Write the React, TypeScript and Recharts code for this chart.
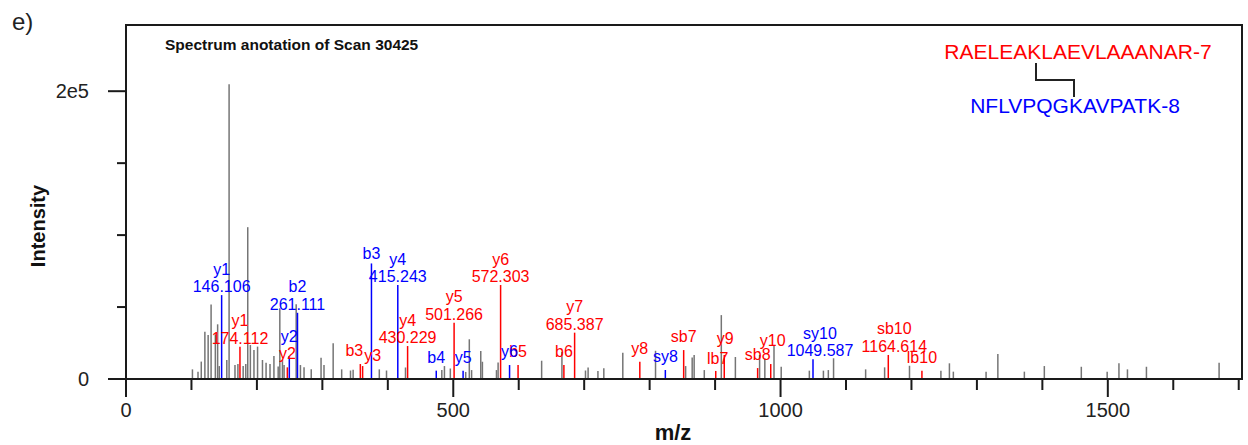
import { ComposedChart, Scatter, ErrorBar, XAxis, YAxis, ReferenceArea } from 'recharts';

const X_MAX = 1705;
const Y_MAX = 246000;

const xTicks = [0, 100, 200, 300, 400, 500, 600, 700, 800, 900, 1000, 1100, 1200, 1300, 1400, 1500, 1600, 1700];
const xTickLabels: Record<number, string> = { 0: '0', 500: '500', 1000: '1000', 1500: '1500' };
const yTicks = [0, 50000, 100000, 150000, 200000];
const yTickLabels: Record<number, string> = { 0: '0', 200000: '2e5' };

// unmatched peaks: [m/z, intensity]
const grayPeaks: [number, number][] = [
  [101.5, 6700], [110, 5100], [115, 12100], [120.5, 32800], [125.5, 30500],
  [130, 51700], [136.5, 31000], [140, 38000], [142.5, 9000], [154, 13200],
  [157.5, 204800], [166.5, 9700], [171, 10400], [179, 9000], [183, 10400],
  [186, 105500], [190, 23600], [195.5, 20100], [201, 22500], [208.5, 13200],
  [214, 11300], [220, 10400], [226, 16000], [232.5, 8700], [235, 49100],
  [239, 13200], [241.5, 9700], [260, 52000], [266.5, 9700], [272, 8100],
  [283, 6700], [298, 14700], [302.5, 9700], [316.5, 24800], [329.5, 6700],
  [343, 5900], [347, 6500], [387, 6700], [398, 5900], [427, 8000],
  [482.5, 6200], [486.5, 9000], [495.5, 7300], [519, 4900], [524.5, 27600],
  [528, 6200], [542, 19400], [544.5, 12000], [566, 6200], [568.5, 11500],
  [635, 12700], [666, 18700], [702, 5900], [706, 8000], [721, 5600],
  [730, 7400], [759, 18300], [809, 19600], [855, 9000], [865, 14900],
  [868, 16700], [883.5, 6200], [909.5, 44400], [931, 15300], [968, 16700],
  [976, 14400], [990, 22900], [1001, 8500], [1044, 5800], [1065.5, 5800],
  [1073, 6200], [1081, 14400], [1130, 6700], [1159, 8100], [1197, 9200],
  [1245, 5800], [1258, 10900], [1264, 5100], [1314, 5100], [1332, 17400],
  [1372.5, 5100], [1403, 9000], [1459.5, 8500], [1499, 5100], [1517, 10900],
  [1530, 6700], [1559, 8500], [1670, 11300],
];

// RAELEAKLAEVLAAANAR-7 fragments: [ion, m/z, intensity, m/z label]
const redPeaks: [string, number, number, string][] = [
  ['y1', 174.112, 22400, '174.112'],
  ['y2', 246.5, 8100, ''],
  ['b3', 358, 10400, ''],
  ['y3', 361.5, 9000, ''],
  ['y4', 430.229, 22900, '430.229'],
  ['y5', 501.266, 39100, '501.266'],
  ['y6', 572.303, 65300, '572.303'],
  ['b5', 599, 9700, ''],
  ['b6', 669, 9700, ''],
  ['y7', 685.387, 32200, '685.387'],
  ['y8', 785, 12000, ''],
  ['sb7', 852, 20100, ''],
  ['lb7', 901, 5600, ''],
  ['y9', 914, 16700, ''],
  ['sb8', 965, 7600, ''],
  ['y10', 985, 10400, ''],
  ['sb10', 1164.614, 16700, '1164.614'],
  ['lb10', 1216, 5800, ''],
];

// NFLVPQGKAVPATK-8 fragments
const bluePeaks: [string, number, number, string][] = [
  ['y1', 146.106, 58300, '146.106'],
  ['y2', 249.5, 16000, ''],
  ['b2', 262, 46000, '261.111'],
  ['b3', 375, 80300, ''],
  ['y4', 415.243, 65300, '415.243'],
  ['b4', 474, 5800, ''],
  ['y5', 515, 5800, ''],
  ['y6', 586, 9700, ''],
  ['sy8', 824, 6250, ''],
  ['sy10', 1049.587, 13700, '1049.587'],
];

const FONT = '"Liberation Sans", Arial, sans-serif';
const RED = '#ff0000';
const BLUE = '#0000ff';
const GRAY = '#757575';
const AXIS = '#1a1a1a';

const toRows = (peaks: [number, number][]) =>
  peaks.map(([mz, intensity]) => ({ mz, intensity, err: [intensity, 0] }));
const toAnnotated = (peaks: [string, number, number, string][]) =>
  peaks.map(([ion, mz, intensity, mzLabel]) => ({ ion, mz, intensity, mzLabel, err: [intensity, 0] }));

// nudges so crowded labels don't sit on top of each other
const labelShift: Record<string, [number, number]> = {
  'red-b3': [-6, 0],
  'red-y3': [10, 3],
  'red-y9': [1, -3],
  'red-lb7': [2, 1],
  'red-y10': [2, -10],
  'red-sb10': [6, 0],
  'blue-y2': [0, -6],
  'blue-b3': [0, 4],
  'blue-sy10': [7, 0],
};

const makeLabel = (color: string, key: string) => (props: any) => {
  const { cx, cy, payload } = props;
  if (cx == null || cy == null) return <g />;
  const [dx, dy] = labelShift[`${key}-${payload.ion}`] ?? [0, 0];
  const common = { textAnchor: 'middle' as const, fontSize: 16, fill: color, fontFamily: FONT };
  if (payload.mzLabel) {
    return (
      <g>
        <text x={cx + dx} y={cy - 20.5 + dy} {...common}>{payload.ion}</text>
        <text x={cx + dx} y={cy - 3 + dy} {...common}>{payload.mzLabel}</text>
      </g>
    );
  }
  return (
    <text x={cx + dx} y={cy - 8 + dy} {...common}>
      {payload.ion}
    </text>
  );
};

const XTick = (props: any) => {
  const { x, y, payload } = props;
  const label = xTickLabels[payload.value];
  const len = payload.value % 500 === 0 ? 18 : 11;
  return (
    <g>
      <line x1={x} x2={x} y1={y} y2={y + len} stroke={AXIS} strokeWidth={2} />
      {label && (
        <text x={x} y={y + 37.5} textAnchor="middle" fontSize={20} fill="#222" fontFamily={FONT}>
          {label}
        </text>
      )}
    </g>
  );
};

const YTick = (props: any) => {
  const { x, y, payload } = props;
  const label = yTickLabels[payload.value];
  const len = label ? 18 : 9;
  return (
    <g>
      <line x1={x - len} x2={x} y1={y} y2={y} stroke={AXIS} strokeWidth={2} />
      {label && (
        <text x={x - 37} y={y + 7} textAnchor="end" fontSize={20} fill="#222" fontFamily={FONT}>
          {label}
        </text>
      )}
    </g>
  );
};

export default function App() {
  return (
    <div style={{ position: 'absolute', left: 0, top: 0, width: 1248, height: 445, background: '#fff' }}>
      <ComposedChart width={1248} height={445} margin={{ top: 25, right: 6, bottom: 0, left: 0 }}>
        <XAxis
          dataKey="mz"
          type="number"
          domain={[0, X_MAX]}
          ticks={xTicks}
          allowDataOverflow
          height={66}
          tickSize={0}
          tickMargin={0}
          tick={<XTick />}
          axisLine={{ stroke: AXIS, strokeWidth: 2 }}
          interval={0}
        />
        <YAxis
          dataKey="intensity"
          type="number"
          domain={[0, Y_MAX]}
          ticks={yTicks}
          allowDataOverflow
          width={126}
          tickSize={0}
          tickMargin={0}
          tick={<YTick />}
          axisLine={{ stroke: AXIS, strokeWidth: 2 }}
          interval={0}
        />
        <ReferenceArea x1={0} x2={X_MAX} y1={0} y2={Y_MAX} fill="none" stroke={AXIS} strokeWidth={2} />
        <Scatter data={toRows(grayPeaks)} shape={() => <g />} isAnimationActive={false}>
          <ErrorBar dataKey="err" direction="y" width={0} stroke={GRAY} strokeWidth={1.5} isAnimationActive={false} />
        </Scatter>
        <Scatter data={toAnnotated(redPeaks)} shape={makeLabel(RED, 'red')} isAnimationActive={false}>
          <ErrorBar dataKey="err" direction="y" width={0} stroke={RED} strokeWidth={1.5} isAnimationActive={false} />
        </Scatter>
        <Scatter data={toAnnotated(bluePeaks)} shape={makeLabel(BLUE, 'blue')} isAnimationActive={false}>
          <ErrorBar dataKey="err" direction="y" width={0} stroke={BLUE} strokeWidth={1.5} isAnimationActive={false} />
        </Scatter>
      </ComposedChart>
      <svg
        width={1248}
        height={445}
        style={{ position: 'absolute', left: 0, top: 0, pointerEvents: 'none' }}
        fontFamily={FONT}
      >
        <text x={12} y={30} fontSize={24} fill="#222">e)</text>
        <text x={165} y={50} fontSize={15.5} fontWeight="bold" fill="#111">
          Spectrum anotation of Scan 30425
        </text>
        <text x={1078} y={59} textAnchor="middle" fontSize={21} fill={RED}>
          RAELEAKLAEVLAAANAR-7
        </text>
        <polyline points="1036,63 1036,80 1074,80 1074,97" fill="none" stroke="#222" strokeWidth={2} />
        <text x={1075} y={112.5} textAnchor="middle" fontSize={21} fill={BLUE}>
          NFLVPQGKAVPATK-8
        </text>
        <text transform="translate(45,226) rotate(-90)" textAnchor="middle" fontSize={20} fontWeight="bold" fill="#111">
          Intensity
        </text>
        <text x={673} y={440} textAnchor="middle" fontSize={22} fontWeight="bold" fill="#111">
          m/z
        </text>
      </svg>
    </div>
  );
}
